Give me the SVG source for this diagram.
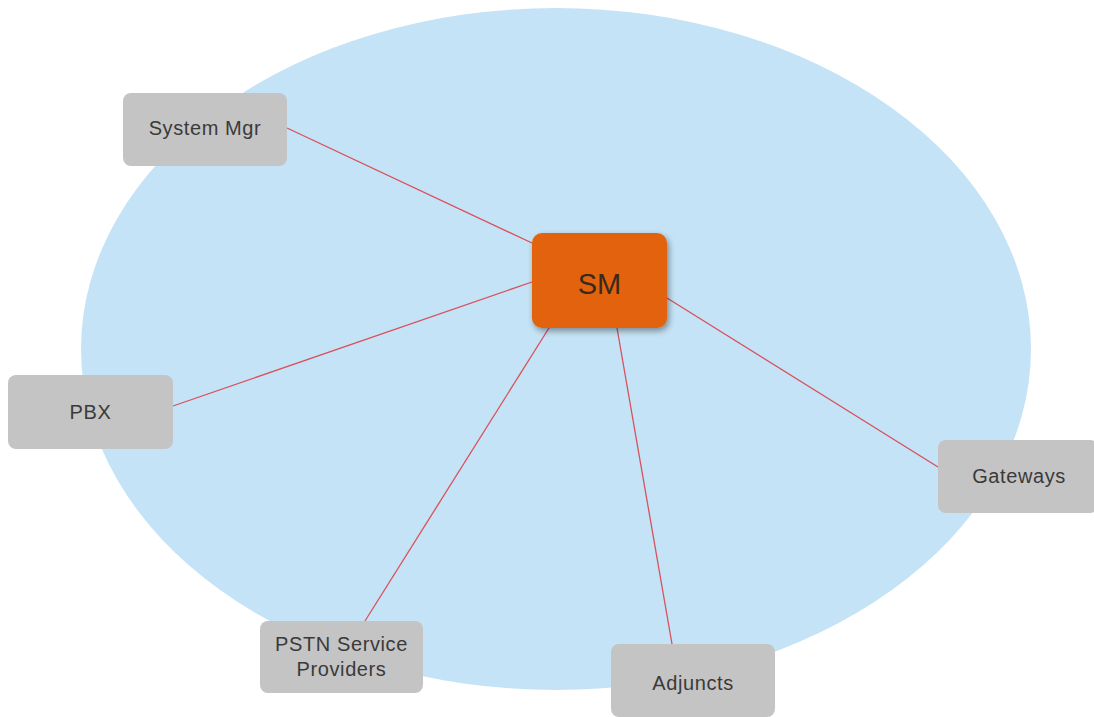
<svg xmlns="http://www.w3.org/2000/svg" width="1094" height="717" viewBox="0 0 1094 717">
<defs>
<style>
.node rect{fill:#c4c4c4;}
.node text{font-family:"Liberation Sans",Arial,sans-serif;font-size:20px;letter-spacing:0.6px;fill:#3a3a3a;text-anchor:middle;}
.conn line{stroke:#d9505a;stroke-width:1.3;}
</style>
<filter id="sh" x="-20%" y="-20%" width="140%" height="140%">
<feGaussianBlur in="SourceAlpha" stdDeviation="3"/>
<feOffset dx="2" dy="3" result="b"/>
<feComponentTransfer><feFuncA type="linear" slope="0.4"/></feComponentTransfer>
<feMerge><feMergeNode/><feMergeNode in="SourceGraphic"/></feMerge>
</filter>
</defs>
<rect width="1094" height="717" fill="#ffffff"/>
<ellipse cx="556" cy="349" rx="475" ry="341" fill="#c5e3f6"/>
<g id="connectors" class="conn">
<line x1="287" y1="128" x2="532" y2="243"/>
<line x1="532" y1="282" x2="173" y2="406"/>
<line x1="549" y1="328" x2="365" y2="621"/>
<line x1="617" y1="328" x2="672" y2="644"/>
<line x1="667" y1="298" x2="938" y2="467"/>
</g>
<g id="sm">
<rect x="532" y="233" width="135" height="95" rx="10" fill="#e2620f" filter="url(#sh)"/>
<text x="599.5" y="294" font-family="'Liberation Sans',Arial,sans-serif" font-size="29" fill="#3a2a1e" text-anchor="middle">SM</text>
</g>
<g id="system-mgr" class="node">
<rect x="123" y="93" width="164" height="73" rx="8"/>
<text x="205" y="135">System Mgr</text>
</g>
<g id="pbx" class="node">
<rect x="8" y="375" width="165" height="74" rx="8"/>
<text x="90.5" y="419">PBX</text>
</g>
<g id="gateways" class="node">
<rect x="938" y="440" width="160" height="73" rx="8"/>
<text x="1019" y="483">Gateways</text>
</g>
<g id="pstn" class="node">
<rect x="260" y="621" width="163" height="72" rx="8"/>
<text x="341.5" y="651">PSTN Service</text>
<text x="341.5" y="676">Providers</text>
</g>
<g id="adjuncts" class="node">
<rect x="611" y="644" width="164" height="73" rx="8"/>
<text x="693" y="690">Adjuncts</text>
</g>
</svg>
